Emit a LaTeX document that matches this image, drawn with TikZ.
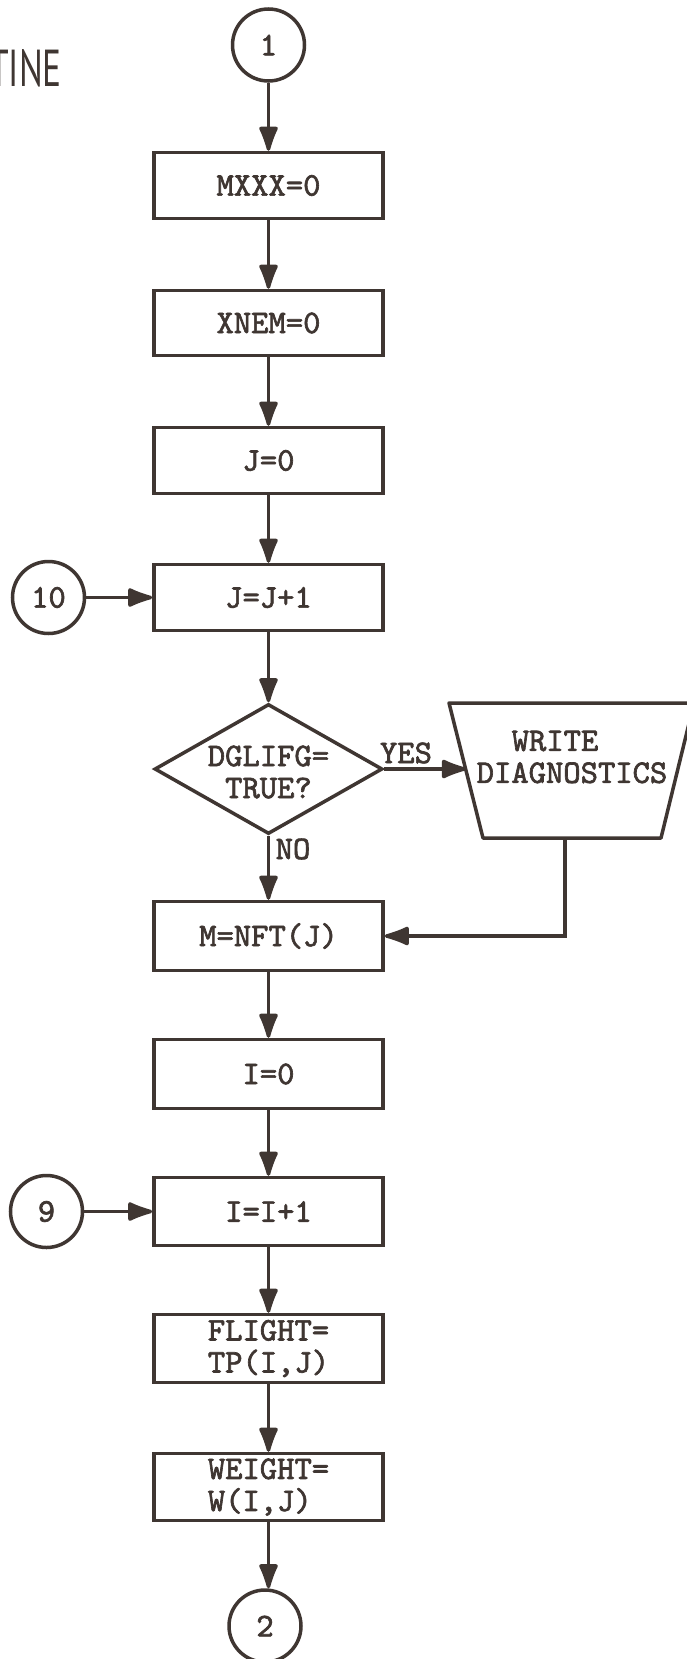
\documentclass[tikz,border=0pt]{standalone}
\usepackage{fontspec}
\usepackage{graphicx}
\newfontfamily\tw{lmmono10-regular}[Extension=.otf,FakeBold=2]
\newfontfamily\hd{PT Sans}
\usetikzlibrary{shapes.geometric,arrows.meta}
\definecolor{ink}{HTML}{3F3632}
\begin{document}
\begin{tikzpicture}[x=1pt,y=-1pt,
  every node/.style={inner sep=0pt, text=ink, font=\tw\fontsize{33}{32}\selectfont},
  box/.style={draw=ink, line width=3.5pt, rectangle, minimum width=229pt, align=left},
  conn/.style={draw=ink, line width=3.5pt, circle, minimum size=72pt},
  flow/.style={draw=ink, line width=3.5pt, -{Latex[length=30pt,width=21pt,round]}},
  plain/.style={draw=ink, line width=3.5pt, line join=round}
]
\useasboundingbox[fill=white] (0,0) rectangle (687,1659);

\node[font=\hd\fontsize{52}{52}\selectfont, anchor=east] (title) at (62,68) {\scalebox{0.68}[1]{TINE}};

\node[conn] (c1) at (268.5,45) {1};
\node[box, minimum height=66pt] (mxxx) at (268.5,185.5) {MXXX=0};
\node[box, minimum height=65pt] (xnem) at (268.5,323) {XNEM=0};
\node[box, minimum height=66pt] (j0) at (268.5,460.5) {J=0};
\node[box, minimum height=66pt] (jj1) at (268.5,597.5) {J=J+1};
\node[conn] (c10) at (48.5,597.5) {10};

\node[draw=ink, line width=3.5pt, diamond, minimum width=228pt, minimum height=130pt] (dia) at (268.5,769) {};
\node[align=center] (dtext) at (268.5,772) {DGLIFG=\\TRUE?};

% write diagnostics (trapezoid, wide side on top)
\coordinate (wtl) at (449,703);
\coordinate (wtr) at (694,703);
\coordinate (wbr) at (661,838);
\coordinate (wbl) at (483,838);
\coordinate (wdw) at (466,769);
\coordinate (wds) at (565,838);
\draw[plain] (wtl) -- (wtr) -- (wbr) -- (wbl) -- cycle;
\node[align=center] (wdtext) at (572,757) {WRITE\hspace*{34pt}\\DIAGNOSTICS};

\node (yes) at (406,753) {YES};
\node (no) at (293,849) {NO};

\node[box, minimum height=69pt] (mnft) at (268.5,936) {M=NFT(J)};
\node[box, minimum height=69pt] (i0) at (268.5,1074) {I=0};
\node[box, minimum height=68pt] (ii1) at (268.5,1211.5) {I=I+1};
\node[conn] (c9) at (46.5,1211.5) {9};
\node[box, minimum height=68pt] (flight) at (268.5,1348.5) {FLIGHT=\\TP(I,J)};
\node[box, minimum height=67pt] (weight) at (268.5,1487) {WEIGHT=\\W(I,J)};
\node[conn] (c2) at (265,1626) {2};

\draw[flow] (c1) -- (mxxx);
\draw[flow] (mxxx) -- (xnem);
\draw[flow] (xnem) -- (j0);
\draw[flow] (j0) -- (jj1);
\draw[flow] (c10.east) -- (c10.east -| jj1.west);
\draw[flow] (jj1) -- (dia);
\draw[flow] (dia.east) -- (dia.east -| wdw);
\draw[flow] (dia.south) -- (mnft.north);
\draw[flow] (wds) |- (mnft.east);
\draw[flow] (mnft) -- (i0);
\draw[flow] (i0) -- (ii1);
\draw[flow] (c9.east) -- (c9.east -| ii1.west);
\draw[flow] (ii1) -- (flight);
\draw[flow] (flight) -- (weight);
\draw[flow] (weight.south) -- (weight.south |- c2.north);
\end{tikzpicture}
\end{document}
